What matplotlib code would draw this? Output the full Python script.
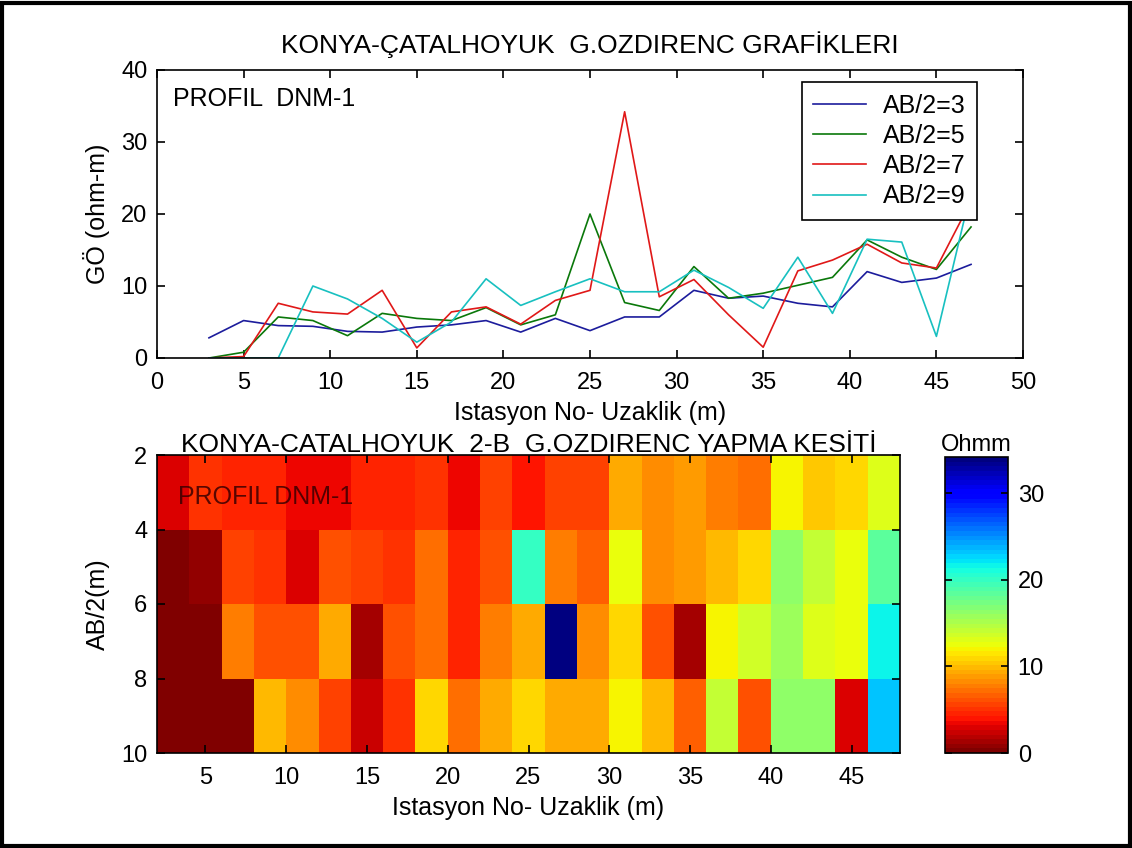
import numpy as np
import matplotlib
matplotlib.use("Agg")
import matplotlib.pyplot as plt
from matplotlib.patches import Rectangle

# ---------------- data ----------------
stations = [3, 5, 7, 9, 11, 13, 15, 17, 19, 21, 23, 25, 27, 29, 31, 33, 35, 37, 39, 41, 43, 45, 47]
ab3 = [2.8, 5.2, 4.5, 4.4, 3.7, 3.6, 4.3, 4.6, 5.2, 3.6, 5.5, 3.8, 5.7, 5.7, 9.4, 8.3, 8.6, 7.6, 7.1, 12.0, 10.5, 11.1, 13.0]
ab5 = [0.0, 0.8, 5.7, 5.2, 3.1, 6.2, 5.5, 5.2, 7.0, 4.6, 6.0, 20.0, 7.7, 6.6, 12.7, 8.3, 9.0, 10.1, 11.2, 16.4, 14.0, 12.3, 18.2]
ab7 = [0.0, 0.2, 7.6, 6.4, 6.1, 9.4, 1.4, 6.4, 7.1, 4.7, 8.0, 9.4, 34.2, 8.5, 10.9, 6.0, 1.5, 12.1, 13.6, 15.8, 13.2, 12.5, 21.8]
ab9 = [0.0, 0.0, 0.0, 10.0, 8.2, 5.5, 2.2, 5.0, 11.0, 7.3, 9.2, 11.0, 9.2, 9.2, 12.2, 9.8, 6.9, 14.0, 6.2, 16.5, 16.1, 3.0, 23.2]
depths = [3, 5, 7, 9]
series_labels = ["AB/2=3", "AB/2=5", "AB/2=7", "AB/2=9"]
series_colors = ["#1c1c9c", "#0a780a", "#e01818", "#18c0c0"]

plt.rcParams['font.family'] = ['Liberation Sans', 'DejaVu Sans']

fig = plt.figure(figsize=(11.32, 8.48), dpi=100)
fig.patch.set_facecolor("white")

TICK = 17
LAB = 18
TIT = 19

# ---------------- top line plot ----------------
ax1 = fig.add_axes([157/1132, 1-358/848, (1023-157)/1132, (358-70)/848])
for vals, lab, col in zip([ab3, ab5, ab7, ab9], series_labels, series_colors):
    ax1.plot(stations, vals, color=col, lw=1.2, label=lab)
ax1.set_xlim(0, 50)
ax1.set_ylim(0, 40)
ax1.set_xticks(np.arange(0, 51, 5))
ax1.set_yticks([0, 10, 20, 30, 40])
ax1.tick_params(direction="in", top=True, right=True, labelsize=TICK, length=6, width=1.2, pad=7)
ax1.tick_params(axis="x", pad=10)
ax1.set_title("KONYA-ÇATALHOYUK  G.OZDIRENC GRAFİKLERI", fontsize=TIT, pad=12)
ax1.set_xlabel("Istasyon No- Uzaklik (m)", fontsize=LAB, labelpad=5)
ax1.set_ylabel("GÖ (ohm-m)", fontsize=LAB, labelpad=8)
ax1.text(0.018, 0.94, "PROFIL  DNM-1", transform=ax1.transAxes, fontsize=18, va="top", ha="left")
leg = ax1.legend(loc="upper right", bbox_to_anchor=(0.947, 0.957), fontsize=18, frameon=True,
                 fancybox=False, framealpha=1.0, edgecolor="black", handlelength=2.1,
                 borderpad=0.45, labelspacing=0.25, handletextpad=0.7, borderaxespad=0)
leg.get_frame().set_linewidth(1.2)
leg.set_zorder(5)
for s in ax1.spines.values():
    s.set_linewidth(1.2)

# ---------------- bottom section ----------------
ax2 = fig.add_axes([157/1132, 1-753/848, (900-157)/1132, (753-455)/848])
grid = np.array([ab3, ab5, ab7, ab9])
st = np.array(stations)
dp = np.array(depths)
xedges = np.concatenate([st - 1, [st[-1] + 1]])
yedges = np.concatenate([dp - 1, [dp[-1] + 1]])
vmax = grid.max()
cmap = plt.get_cmap("jet_r", 64)
mesh = ax2.pcolormesh(xedges, yedges, grid, cmap=cmap, vmin=0, vmax=vmax, shading="flat")
ax2.set_xlim(2, 48)
ax2.set_ylim(10, 2)
ax2.set_xticks(np.arange(5, 46, 5))
ax2.set_yticks([2, 4, 6, 8, 10])
ax2.tick_params(direction="in", top=True, right=True, labelsize=TICK, length=6, width=1.2, pad=7)
ax2.tick_params(axis="x", pad=10)
ax2.set_title("KONYA-CATALHOYUK  2-B  G.OZDIRENC YAPMA KESİTİ", fontsize=TIT, pad=2)
ax2.set_xlabel("Istasyon No- Uzaklik (m)", fontsize=LAB, labelpad=5)
ax2.set_ylabel("AB/2(m)", fontsize=LAB, labelpad=8)
ax2.text(0.028, 0.86, "PROFIL DNM-1", transform=ax2.transAxes, fontsize=18, va="center",
         ha="left", color="#3a0000", alpha=0.85)
for s in ax2.spines.values():
    s.set_linewidth(1.2)

cax = fig.add_axes([945/1132, 1-753/848, (1008-945)/1132, (753-457)/848])
cb = fig.colorbar(mesh, cax=cax)
cb.set_ticks([0, 10, 20, 30])
cax.tick_params(direction="in", left=True, right=True, labelsize=TICK, length=5, width=1.2, pad=7)
cb.outline.set_linewidth(1.2)
cax.set_title("Ohmm", fontsize=17, pad=4)

# figure frame
fig.patches.append(Rectangle((0.002, 0.002), 0.996, 0.995, transform=fig.transFigure,
                             fill=False, edgecolor="black", lw=3))

fig.savefig("out.png", dpi=100, facecolor="white")
